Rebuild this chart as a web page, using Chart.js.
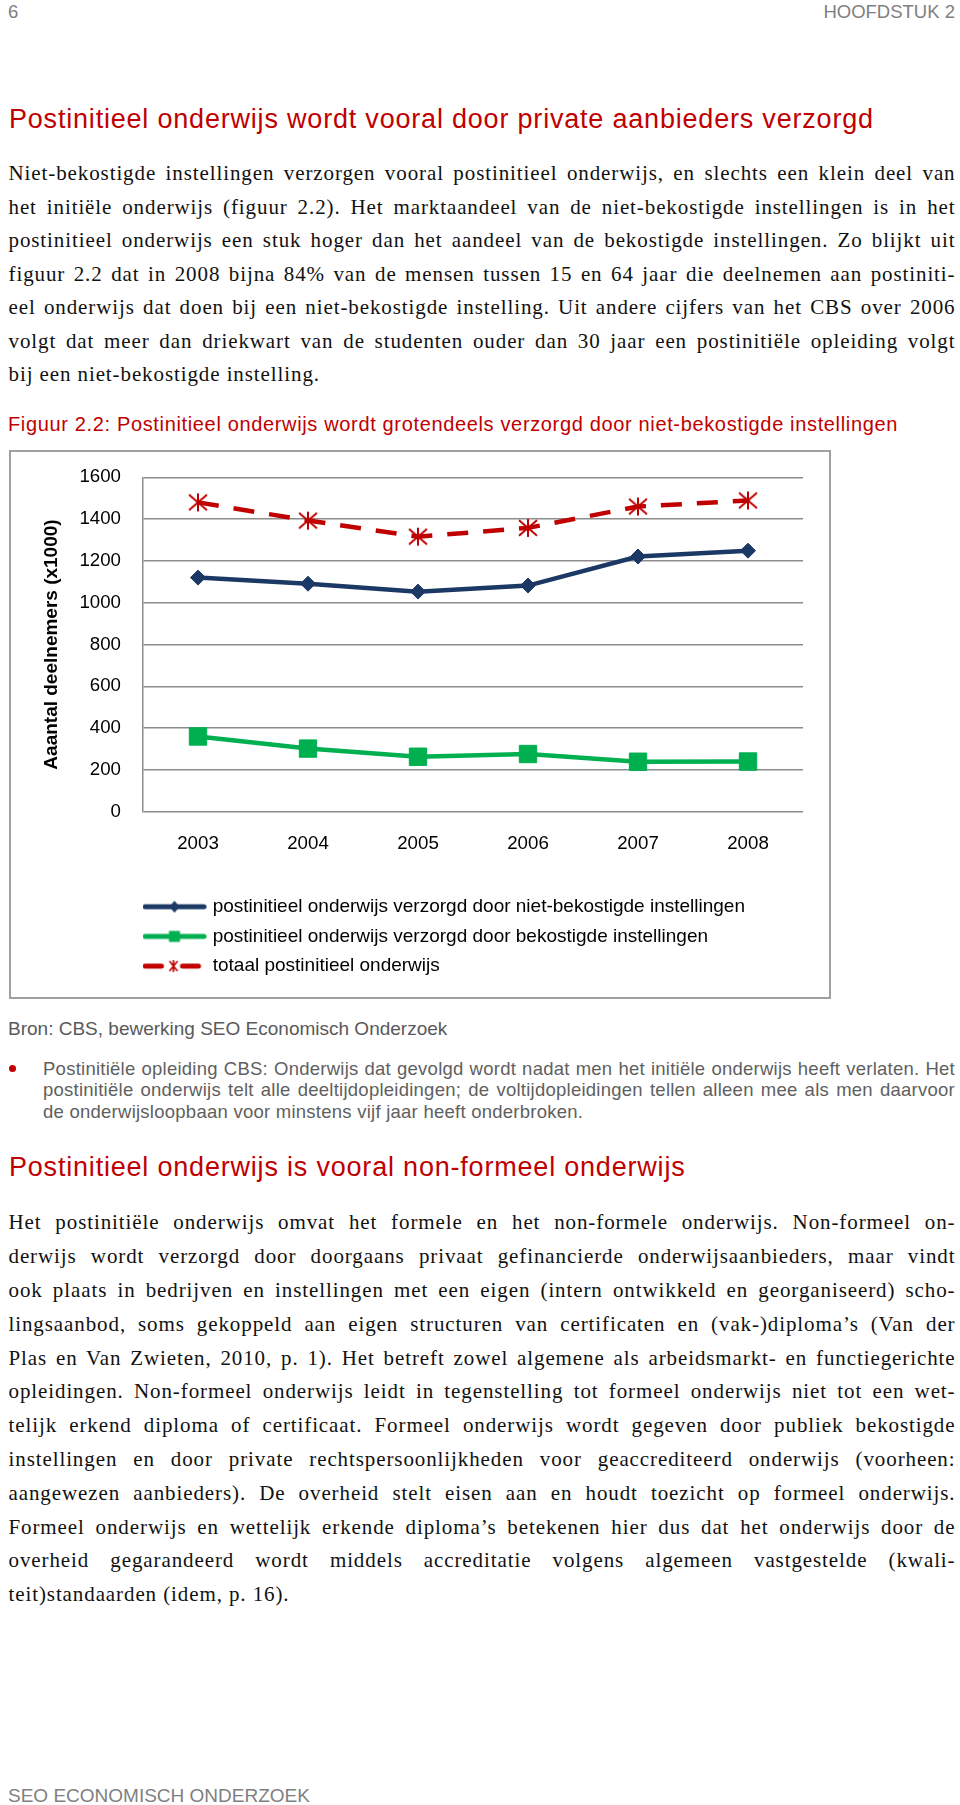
<!DOCTYPE html>
<html lang="nl">
<head>
<meta charset="utf-8">
<script src="https://cdn.jsdelivr.net/npm/chart.js@4.4.1/dist/chart.umd.min.js"></script>
<style>
  html, body { margin:0; padding:0; background:#fff; }
  body { width:960px; height:1805px; position:relative; overflow:hidden; font-family:'Liberation Sans', Arial, sans-serif; }
  .abs { position:absolute; white-space:nowrap; }
  .hdr { font-size:18.5px; line-height:22px; color:#808080; top:1px; }
  .h { left:9px; font-size:27px; line-height:32px; color:#c00000; letter-spacing:0.8px; }
  .body { position:absolute; left:8.5px; width:947px; font-family:'Liberation Serif', 'Times New Roman', serif; font-size:21px; line-height:33.8px; color:#111; letter-spacing:0.9px; }
  .j { text-align:justify; text-align-last:justify; }
  .l { text-align:left; white-space:nowrap; }
  .cap { left:8px; top:411.6px; font-size:20px; line-height:24px; color:#c00000; letter-spacing:0.65px; }
  #box { position:absolute; left:9px; top:450px; width:822px; height:549px; box-sizing:border-box; border:2px solid #a0a0a0; }
  #c { position:absolute; left:0; top:0; }
  .bron { left:8px; top:1018.4px; font-size:19px; line-height:22px; color:#595959; letter-spacing:0px; }
  .bul { position:absolute; left:43px; width:912px; top:1057.7px; font-size:18.5px; line-height:21.7px; color:#606060; letter-spacing:0.25px; }
  .dot { position:absolute; left:9px; top:1064.5px; width:7px; height:7px; border-radius:50%; background:#c00000; }
  .foot { left:8px; top:1785.4px; font-size:19px; line-height:22px; color:#7f7f7f; }
</style>
</head>
<body>
<div class="abs hdr" style="left:8px;">6</div>
<div class="abs hdr" style="right:5px;">HOOFDSTUK 2</div>

<div class="abs h" style="top:103px;">Postinitieel onderwijs wordt vooral door private aanbieders verzorgd</div>

<div class="body" style="top:157px; line-height:33.5px;">
  <div class="j">Niet-bekostigde instellingen verzorgen vooral postinitieel onderwijs, en slechts een klein deel van</div>
  <div class="j">het initiële onderwijs (figuur 2.2). Het marktaandeel van de niet-bekostigde instellingen is in het</div>
  <div class="j">postinitieel onderwijs een stuk hoger dan het aandeel van de bekostigde instellingen. Zo blijkt uit</div>
  <div class="j">figuur 2.2 dat in 2008 bijna 84% van de mensen tussen 15 en 64 jaar die deelnemen aan postiniti-</div>
  <div class="j">eel onderwijs dat doen bij een niet-bekostigde instelling. Uit andere cijfers van het CBS over 2006</div>
  <div class="j">volgt dat meer dan driekwart van de studenten ouder dan 30 jaar een postinitiële opleiding volgt</div>
  <div class="l">bij een niet-bekostigde instelling.</div>
</div>

<div class="abs cap">Figuur 2.2: Postinitieel onderwijs wordt grotendeels verzorgd door niet-bekostigde instellingen</div>

<div id="box"><canvas id="c" width="818" height="545"></canvas></div>

<div class="abs bron">Bron: CBS, bewerking SEO Economisch Onderzoek</div>
<div class="dot"></div>
<div class="bul">
  <div class="j">Postinitiële opleiding CBS: Onderwijs dat gevolgd wordt nadat men het initiële onderwijs heeft verlaten. Het</div>
  <div class="j">postinitiële onderwijs telt alle deeltijdopleidingen; de voltijdopleidingen tellen alleen mee als men daarvoor</div>
  <div class="l">de onderwijsloopbaan voor minstens vijf jaar heeft onderbroken.</div>
</div>

<div class="abs h" style="top:1150.6px;">Postinitieel onderwijs is vooral non-formeel onderwijs</div>

<div class="body" style="top:1206.4px;">
  <div class="j">Het postinitiële onderwijs omvat het formele en het non-formele onderwijs. Non-formeel on-</div>
  <div class="j">derwijs wordt verzorgd door doorgaans privaat gefinancierde onderwijsaanbieders, maar vindt</div>
  <div class="j">ook plaats in bedrijven en instellingen met een eigen (intern ontwikkeld en georganiseerd) scho-</div>
  <div class="j">lingsaanbod, soms gekoppeld aan eigen structuren van certificaten en (vak-)diploma’s (Van der</div>
  <div class="j">Plas en Van Zwieten, 2010, p. 1). Het betreft zowel algemene als arbeidsmarkt- en functiegerichte</div>
  <div class="j">opleidingen. Non-formeel onderwijs leidt in tegenstelling tot formeel onderwijs niet tot een wet-</div>
  <div class="j">telijk erkend diploma of certificaat. Formeel onderwijs wordt gegeven door publiek bekostigde</div>
  <div class="j">instellingen en door private rechtspersoonlijkheden voor geaccrediteerd onderwijs (voorheen:</div>
  <div class="j">aangewezen aanbieders). De overheid stelt eisen aan en houdt toezicht op formeel onderwijs.</div>
  <div class="j">Formeel onderwijs en wettelijk erkende diploma’s betekenen hier dus dat het onderwijs door de</div>
  <div class="j">overheid gegarandeerd wordt middels accreditatie volgens algemeen vastgestelde (kwali-</div>
  <div class="l">teit)standaarden (idem, p. 16).</div>
</div>

<div class="abs foot">SEO ECONOMISCH ONDERZOEK</div>

<script>
// ---- data ----
const years = ['2003', '2004', '2005', '2006', '2007', '2008'];
const nietBekostigd = [1120, 1091, 1053, 1082, 1221, 1249];
const bekostigd = [360, 302, 263, 276, 239, 240];
const totaal = [1480, 1393, 1316, 1358, 1460, 1489];
const seriesLabels = [
  'postinitieel onderwijs verzorgd door niet-bekostigde instellingen',
  'postinitieel onderwijs verzorgd door bekostigde instellingen',
  'totaal postinitieel onderwijs'
];
const yAxisTitle = 'Aaantal deelnemers (x1000)';
const yMin = 0, yMax = 1600, yStep = 200;

// ---- justify fitting for page text ----
(function () {
  const mctx = document.createElement('canvas').getContext('2d');
  document.querySelectorAll('.j, .l').forEach(el => {
    const cs = getComputedStyle(el);
    mctx.font = cs.fontStyle + ' ' + cs.fontWeight + ' ' + cs.fontSize + ' ' + cs.fontFamily;
    const t = el.textContent;
    const ls = parseFloat(cs.letterSpacing) || 0;
    const w = mctx.measureText(t).width + ls * t.length;
    const W = el.clientWidth || el.parentElement.clientWidth;
    if (el.classList.contains('j') && w > W - 3) {
      el.style.letterSpacing = (ls - (w - W + 3) / t.length) + 'px';
    }
  });
})();

// ---- colours ----
const cBlue = '#1c3966';
const cGreen = '#00b050';
const cRed = '#c00000';

function starMarker(size, lw) {
  const c = document.createElement('canvas');
  c.width = size; c.height = size;
  const g = c.getContext('2d');
  g.strokeStyle = cRed; g.lineWidth = lw;
  const m = size / 2, a = size / 2 - 2;
  g.beginPath();
  g.moveTo(m, m - a); g.lineTo(m, m + a);
  g.moveTo(m - a, m - a * 0.85); g.lineTo(m + a, m + a * 0.85);
  g.moveTo(m - a, m + a * 0.85); g.lineTo(m + a, m - a * 0.85);
  g.stroke();
  return c;
}

function legendIcon(kind) {
  const c = document.createElement('canvas');
  c.width = 72; c.height = 16;
  const g = c.getContext('2d');
  const y = 8;
  g.lineCap = 'round';
  g.lineWidth = 5;
  if (kind === 0) {
    g.strokeStyle = cBlue;
    g.beginPath(); g.moveTo(2.5, y); g.lineTo(61.5, y); g.stroke();
    g.fillStyle = cBlue;
    g.beginPath(); g.moveTo(32, y - 6); g.lineTo(37, y); g.lineTo(32, y + 6); g.lineTo(27, y); g.closePath(); g.fill();
  } else if (kind === 1) {
    g.strokeStyle = cGreen;
    g.beginPath(); g.moveTo(2.5, y); g.lineTo(61.5, y); g.stroke();
    g.fillStyle = cGreen;
    g.fillRect(26.5, y - 5.5, 11, 11);
  } else {
    g.strokeStyle = cRed;
    g.beginPath(); g.moveTo(2.5, y); g.lineTo(19, y); g.moveTo(40, y); g.lineTo(56, y); g.stroke();
    g.lineCap = 'butt';
    g.lineWidth = 1.6;
    g.beginPath();
    g.moveTo(31, y - 6); g.lineTo(31, y + 6);
    g.moveTo(27, y - 5); g.lineTo(35, y + 5);
    g.moveTo(27, y + 5); g.lineTo(35, y - 5);
    g.stroke();
  }
  return c;
}

const legendIcons = [legendIcon(0), legendIcon(1), legendIcon(2)];

Chart.defaults.font.family = "'Liberation Sans', Arial, sans-serif";
Chart.defaults.color = '#000';

new Chart(document.getElementById('c'), {
  type: 'line',
  data: {
    labels: years,
    datasets: [
      {
        label: seriesLabels[0],
        data: nietBekostigd,
        borderColor: cBlue, backgroundColor: cBlue,
        borderWidth: 4.5,
        pointStyle: 'rectRot', pointRadius: 7.5, pointBorderWidth: 1,
        pointBackgroundColor: cBlue, pointBorderColor: cBlue,
        tension: 0
      },
      {
        label: seriesLabels[1],
        data: bekostigd,
        borderColor: cGreen, backgroundColor: cGreen,
        borderWidth: 4.5,
        pointStyle: 'rect', pointRadius: 12.3, pointBorderWidth: 1,
        pointBackgroundColor: cGreen, pointBorderColor: cGreen,
        tension: 0
      },
      {
        label: seriesLabels[2],
        data: totaal,
        borderColor: cRed, backgroundColor: cRed,
        borderWidth: 4.5,
        borderDash: [21, 15],
        pointStyle: starMarker(22, 2), pointRadius: 10,
        tension: 0
      }
    ]
  },
  options: {
    responsive: false,
    animation: false,
    devicePixelRatio: 1,
    layout: { padding: { left: 0, right: 26, top: 25.3, bottom: 11.4 } },
    plugins: {
      tooltip: { enabled: false },
      legend: {
        display: true,
        position: 'bottom',
        align: 'start',
        fullSize: false,
        labels: {
          usePointStyle: true,
          pointStyleWidth: 49.5,
          padding: 10.7,
          color: '#000',
          font: { size: 19 },
          generateLabels: (chart) => {
            const items = Chart.defaults.plugins.legend.labels.generateLabels(chart);
            items.forEach((it, i) => { it.pointStyle = legendIcons[i]; it.lineWidth = 0; });
            return items;
          }
        }
      }
    },
    scales: {
      x: {
        offset: true,
        grid: { display: false, drawTicks: false },
        border: { display: false },
        ticks: { padding: 21, color: '#000', font: { size: 18.7 } },
        afterFit: (s) => { s.height = 74.8; s.paddingLeft = 0; s.paddingRight = 0; }
      },
      y: {
        min: yMin, max: yMax,
        ticks: { stepSize: yStep, padding: 22, color: '#000', font: { size: 18.7 }, format: { useGrouping: false } },
        grid: { color: '#8c8c8c', lineWidth: 1.5, drawTicks: false },
        border: { display: true, color: '#8c8c8c', width: 1.5 },
        title: {
          display: true, text: yAxisTitle, color: '#000',
          font: { size: 19, weight: 'bold' },
          padding: { top: 29.3, bottom: 0 }
        },
        afterFit: (s) => { s.width = 132; s.paddingTop = 0; s.paddingBottom = 0; }
      }
    }
  }
});
</script>
</body>
</html>
